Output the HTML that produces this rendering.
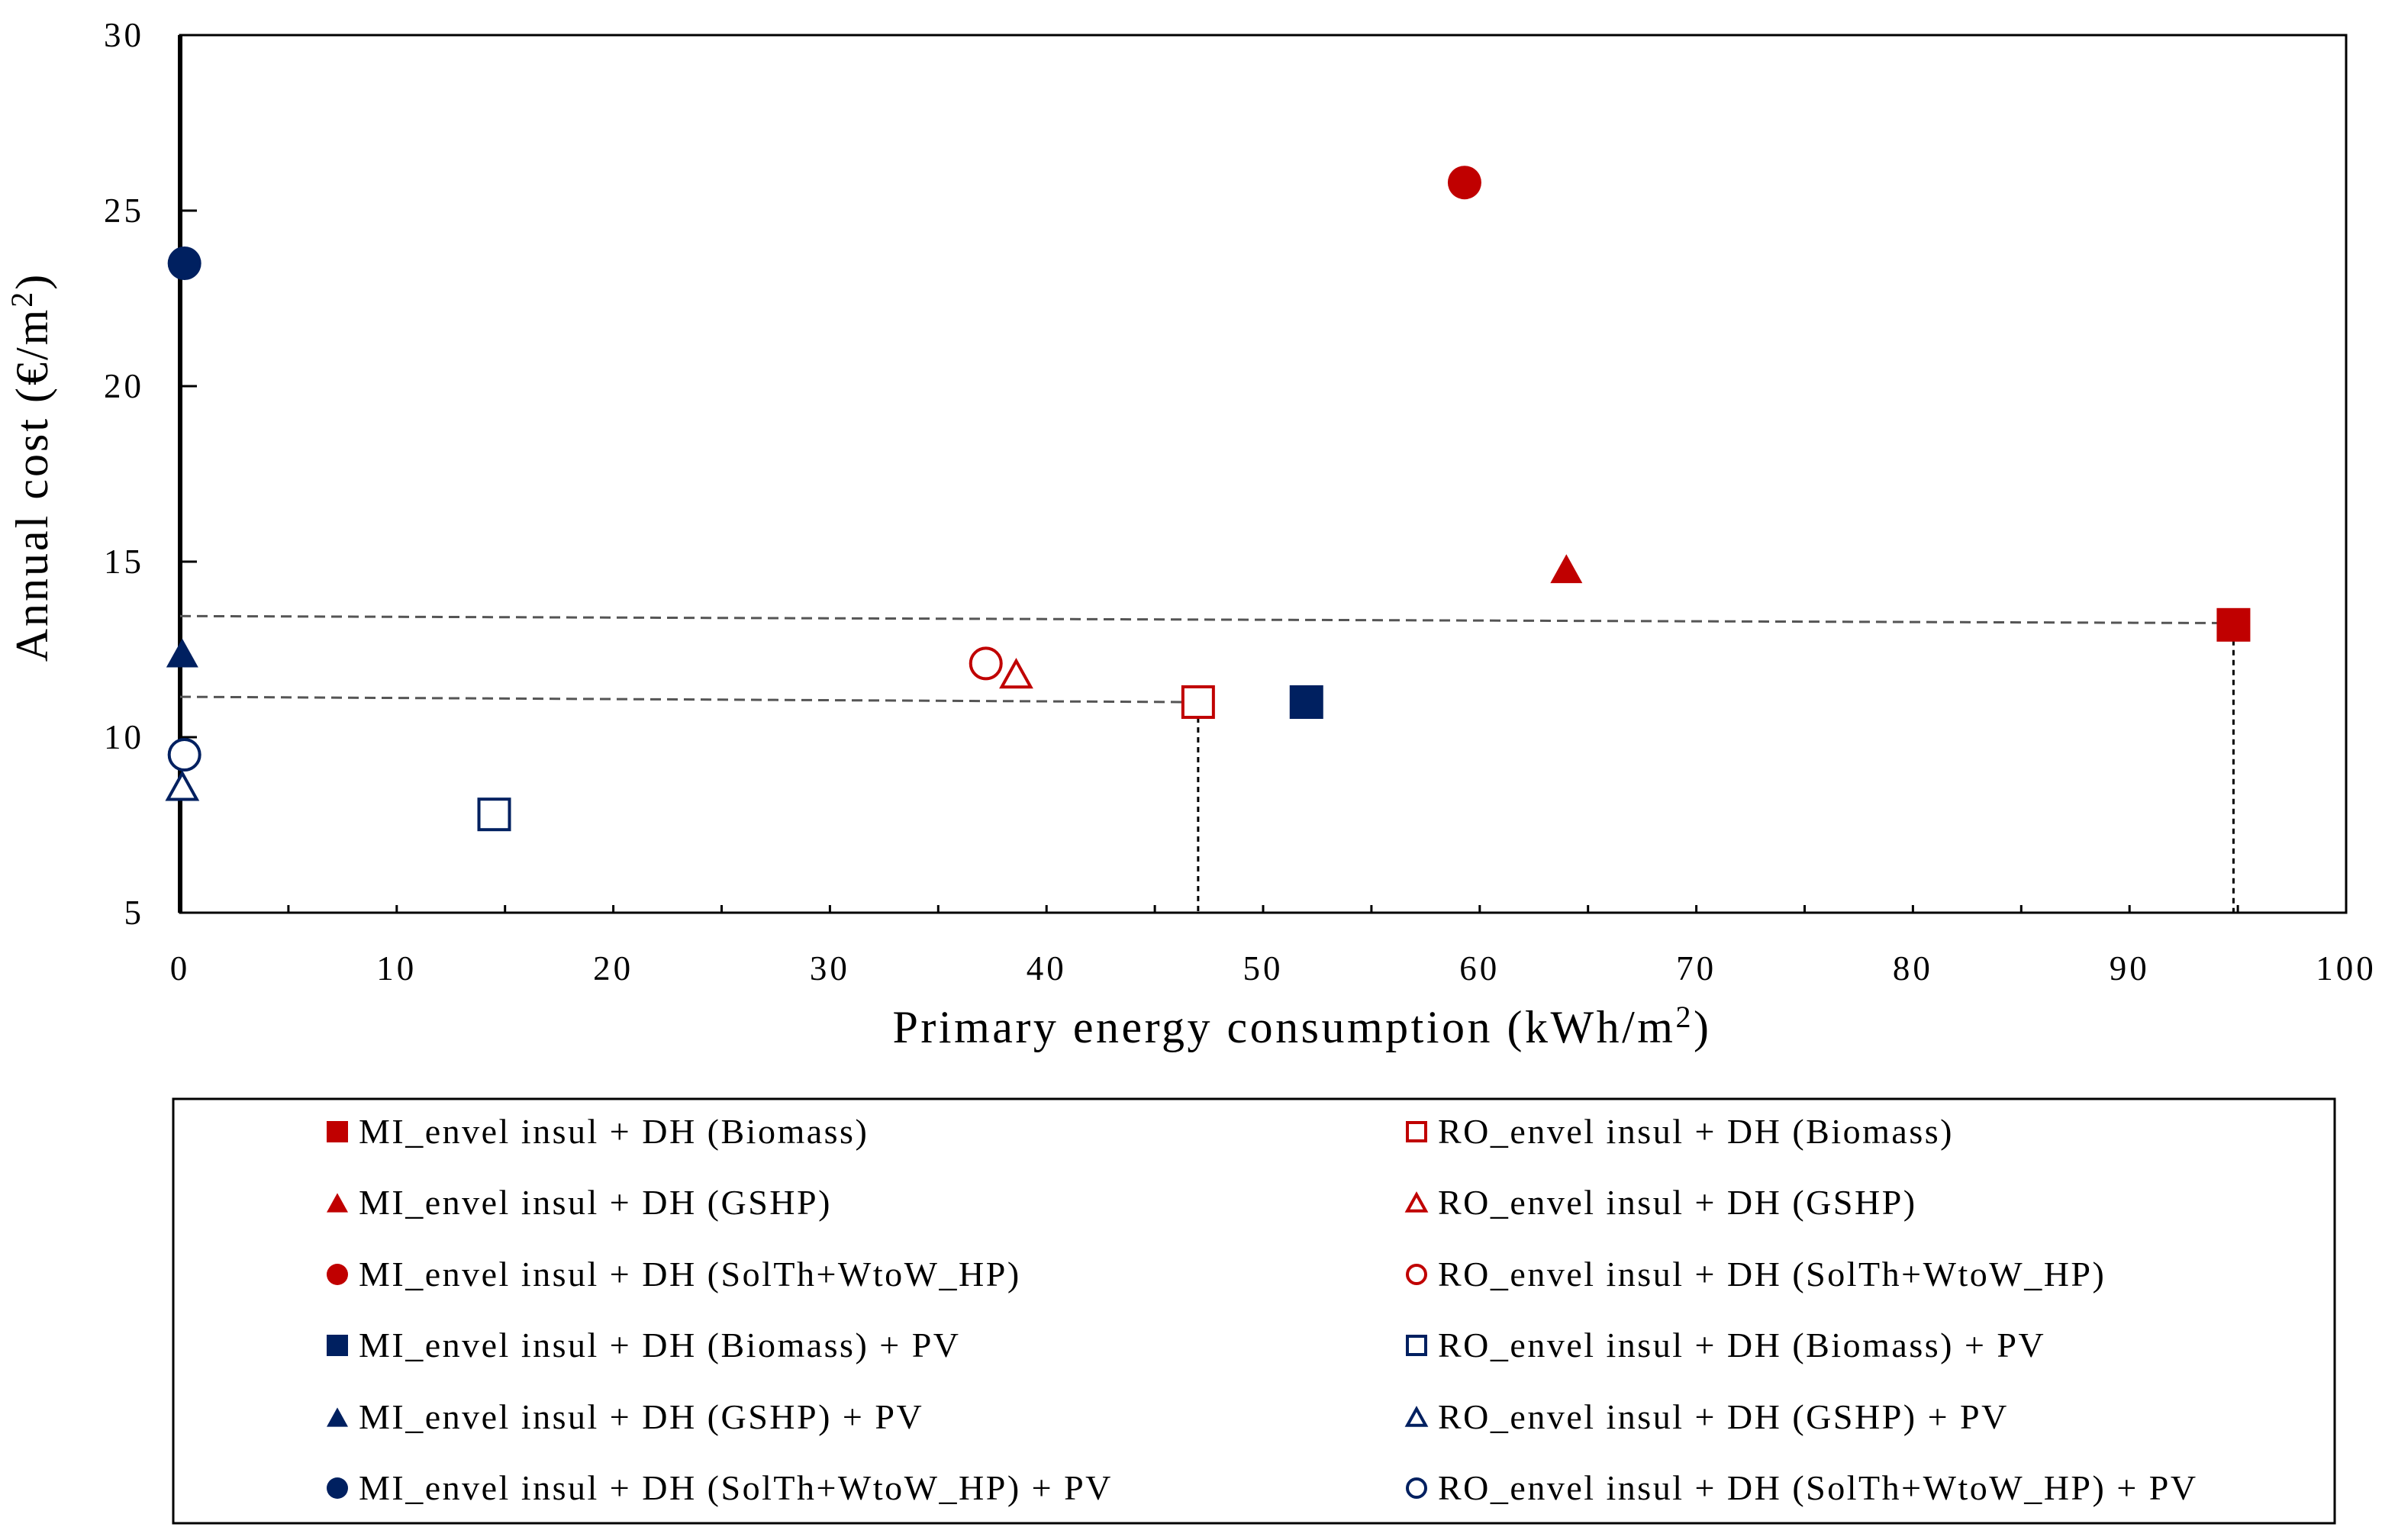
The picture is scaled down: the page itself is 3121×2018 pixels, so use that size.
<!DOCTYPE html>
<html><head><meta charset="utf-8"><style>
html,body{margin:0;padding:0;background:#fff;}
svg{display:block;font-family:"Liberation Serif",serif;}
</style></head><body>
<svg id="chart" width="3121" height="2018" viewBox="0 0 3121 2018">
<g id="axes"></g><g id="guides"></g><g id="marks"></g><g id="legend"></g>
</svg>
<script>
const seriesNames=["MI_envel insul + DH (Biomass)","RO_envel insul + DH (Biomass)","MI_envel insul + DH (GSHP)","RO_envel insul + DH (GSHP)","MI_envel insul + DH (SolTh+WtoW_HP)","RO_envel insul + DH (SolTh+WtoW_HP)","MI_envel insul + DH (Biomass) + PV","RO_envel insul + DH (Biomass) + PV","MI_envel insul + DH (GSHP) + PV","RO_envel insul + DH (GSHP) + PV","MI_envel insul + DH (SolTh+WtoW_HP) + PV","RO_envel insul + DH (SolTh+WtoW_HP) + PV"];
const energyValues=[94.8,47.0,64.0,38.6,59.3,37.2,52.0,14.5,0.1,0.1,0.2,0.2];
const costValues=[13.2,11.0,14.8,11.8,25.8,12.1,11.0,7.8,12.4,8.6,23.5,9.5];
const shapes=["square","square","triangle","triangle","circle","circle","square","square","triangle","triangle","circle","circle"];
const filled=[true,false,true,false,true,false,true,false,true,false,true,false];
const colors=["#C00000","#C00000","#C00000","#C00000","#C00000","#C00000","#002060","#002060","#002060","#002060","#002060","#002060"];
const xTicks=[0,10,20,30,40,50,60,70,80,90,100];
const yTicks=[5,10,15,20,25,30];
const NS="http://www.w3.org/2000/svg";
const L=236,R=3074,T=46,B=1196;
function xs(v){return L+(v-0)/(100-0)*(R-L);}
function ys(v){return B-(v-5)/(30-5)*(B-T);}
function mk(tag,attrs,parent){const e=document.createElementNS(NS,tag);for(const k in attrs)e.setAttribute(k,attrs[k]);parent.appendChild(e);return e;}
const axes=document.getElementById('axes');
let fr=mk('rect',{x:L,y:T,width:R-L,height:B-T,fill:'none',stroke:'#000','stroke-width':3},axes);


let yl=mk('line',{x1:L,y1:T,x2:L,y2:B,stroke:'#000','stroke-width':6},axes);


for(let i=0;i<xTicks.length;i++){
 const v=xTicks[i];
 const x=xs(v);
 let t=mk('line',{x1:x,y1:B,x2:x,y2:B-10,stroke:'#000','stroke-width':3},axes);
 
 
 if(i<xTicks.length-1){const xm=xs(v+5);let t2=mk('line',{x1:xm,y1:B,x2:xm,y2:B-10,stroke:'#000','stroke-width':3},axes);
 
 }
 let lb=mk('text',{x:x,y:B+88,'font-size':45,'letter-spacing':4,'text-anchor':'middle',fill:'#000'},axes);lb.textContent=v;
 
 
}
for(const v of yTicks){
 const y=ys(v);
 let t=mk('line',{x1:L,y1:y,x2:L+22,y2:y,stroke:'#000','stroke-width':3},axes);
 
 
 let lb=mk('text',{x:L-47,y:y+15,'font-size':45,'letter-spacing':4,'text-anchor':'end',fill:'#000'},axes);lb.textContent=v;
 
 
}
let xt=mk('text',{x:1706,y:1366,'font-size':60,'letter-spacing':3.5,'text-anchor':'middle',fill:'#000'},axes);
xt.innerHTML='Primary energy consumption (kWh/m<tspan dy="-20" font-size="40">2</tspan><tspan dy="20">)</tspan>';


let yt=mk('text',{x:0,y:0,'font-size':60,'letter-spacing':3,'text-anchor':'middle',fill:'#000',transform:'translate(62,612) rotate(-90)'},axes);
yt.innerHTML='Annual cost (€/m<tspan dy="-20" font-size="40">2</tspan><tspan dy="20">)</tspan>';


const guides=document.getElementById('guides');
const g1=[[0,13.45],[94.5,13.25]],g2=[[0,11.15],[46.5,11.0]];
for(const g of [g1,g2]){let l=mk('line',{x1:xs(g[0][0]),y1:ys(g[0][1]),x2:xs(g[1][0]),y2:ys(g[1][1]),stroke:'#555','stroke-width':3,'stroke-dasharray':'14 8'},guides);
 
 }
for(const i of [0,1]){let l=mk('line',{x1:xs(energyValues[i]),y1:ys(costValues[i])+20,x2:xs(energyValues[i]),y2:B,stroke:'#000','stroke-width':3,'stroke-dasharray':'7 6'},guides);
 
 }
function drawMarker(parent,shape,cx,cy,s,col,fill,sw){
 let e;
 const f=fill?col:'#fff';
 if(shape==='square')e=mk('rect',{x:cx-s/2,y:cy-s/2,width:s,height:s,fill:f,stroke:col,'stroke-width':sw},parent);
 else if(shape==='circle')e=mk('circle',{cx:cx,cy:cy,r:s/2,fill:f,stroke:col,'stroke-width':sw},parent);
 else{const h=s*0.9;e=mk('polygon',{points:`${cx},${cy-h/2} ${cx-s/2},${cy+h/2} ${cx+s/2},${cy+h/2}`,fill:f,stroke:col,'stroke-width':sw},parent);}
 return e;
}
const marks=document.getElementById('marks');
for(let i=0;i<seriesNames.length;i++){
 const sz=shapes[i]==='triangle'?42:44;
 const e=drawMarker(marks,shapes[i],xs(energyValues[i]),ys(costValues[i]),filled[i]?sz:sz-4,colors[i],filled[i],filled[i]?0:4);
 
 
}
const legend=document.getElementById('legend');
let lbx=mk('rect',{x:227,y:1440,width:2832,height:556,fill:'none',stroke:'#000','stroke-width':3},legend);


const rowsY=[1483,1576,1670,1763,1857,1950];
for(let i=0;i<seriesNames.length;i++){
 const col=i%2,row=Math.floor(i/2);
 const mx=col===0?442:1856,tx=col===0?470:1884,y=rowsY[row];
 const g=mk('g',{},legend);
 
 
 drawMarker(g,shapes[i],mx,y,filled[i]?28:24,colors[i],filled[i],filled[i]?0:4);
 const t=mk('text',{x:tx,y:y+15,'font-size':46,'letter-spacing':2.5,fill:'#000'},g);
 t.textContent=seriesNames[i];
}
</script>
</body></html>
